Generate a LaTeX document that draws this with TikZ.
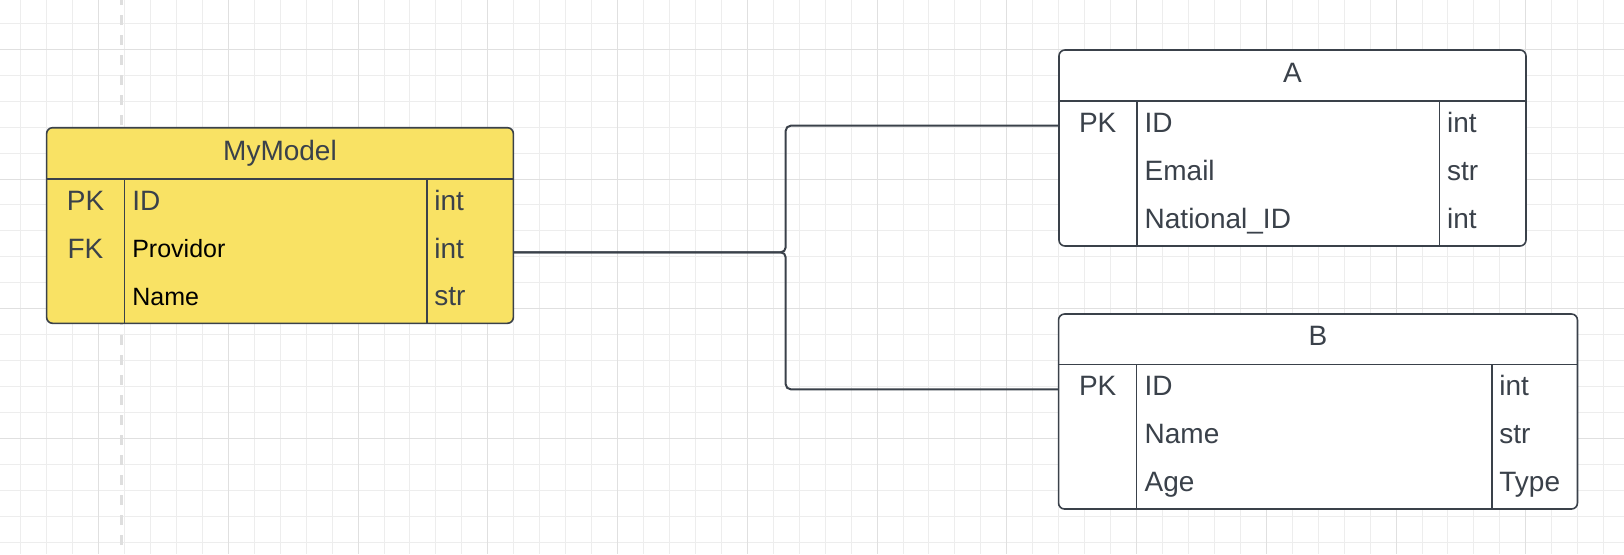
\documentclass[tikz,border=0pt]{standalone}
\usepackage{fontspec}
\setmainfont{Liberation Sans}
\usepackage{xcolor}
\definecolor{inkgrey}{HTML}{3A414A}
\definecolor{mmyellow}{HTML}{F9E264}
\definecolor{gridminor}{HTML}{EDEDED}
\definecolor{gridmajor}{HTML}{E0E0E0}
\definecolor{guide}{HTML}{DEDEDE}

\begin{document}
\begin{tikzpicture}[x=0.5pt, y=-0.5pt,
 tbl/.style={draw=inkgrey, line width=0.8pt, rounded corners=3pt, fill=white, inner sep=0},
 sep/.style={draw=inkgrey, line width=0.8pt},
 lbl/.style={inner sep=0, text=inkgrey, font=\fontsize{14}{16}\selectfont},
 fld/.style={lbl, anchor=base west},
 key/.style={lbl, anchor=base},
 small/.style={text=black, font=\fontsize{12.5}{15}\selectfont},
 link/.style={draw=inkgrey, line width=1pt, rounded corners=2.5pt}]
 \useasboundingbox (0, 0) rectangle (1624, 554);
 \foreach \i in {0,...,61} \draw[gridminor, line width=0.5pt] ({20.7+25.95*\i}, 0) -- ++(0, 554);
 \foreach \j in {0,...,20} \draw[gridminor, line width=0.5pt] (0, {23.3+25.95*\j}) -- ++(1624, 0);
 \foreach \i in {0,...,11} \draw[gridmajor, line width=0.5pt] ({98.5+129.75*\i}, 0) -- ++(0, 554);
 \foreach \j in {0,...,3} \draw[gridmajor, line width=0.5pt] (0, {49.3+129.75*\j}) -- ++(1624, 0);
 \draw[guide, line width=1.5pt, dash pattern=on 5pt off 5pt] (121.7, -5) -- (121.7, 560);

 \node[tbl, fill=mmyellow, minimum width=233.4pt, minimum height=97.8pt] (mymodel) at (280, 225.5) {};
 \node[tbl, minimum width=233.5pt, minimum height=98pt] (tblA) at (1292.5, 148) {};
 \node[tbl, minimum width=259.45pt, minimum height=97.5pt] (tblB) at (1318, 411.5) {};

 \coordinate (mm-out) at ([yshift=-13.4pt]mymodel.east);
 \coordinate (hub) at (785.7, 252.3);
 \coordinate (a-in) at ([yshift=11.15pt]tblA.west);
 \coordinate (b-in) at ([yshift=11.1pt]tblB.west);
 \draw[link] (mm-out) -- (hub) |- (a-in);
 \draw[link] (mm-out) -- (hub) |- (b-in);

 \draw[sep] ([yshift=-26pt]mymodel.north west) -- ([yshift=-26pt]mymodel.north east);
 \draw[sep] (124.3, 180) -- (124.3, 323.3);
 \draw[sep] (427, 180) -- (427, 323.3);
 \draw[sep] ([yshift=-25.85pt]tblA.north west) -- ([yshift=-25.85pt]tblA.north east);
 \draw[sep] (1136.7, 101.7) -- (1136.7, 246);
 \draw[sep] (1439.3, 101.7) -- (1439.3, 246);
 \draw[sep] ([yshift=-25.65pt]tblB.north west) -- ([yshift=-25.65pt]tblB.north east);
 \draw[sep] (1136.4, 365.3) -- (1136.4, 509);
 \draw[sep] (1491.8, 365.3) -- (1491.8, 509);

 \node[key] (mm-title) at (280, 160) {MyModel};
 \node[key] (mm-pk) at (85.5, 210) {PK};
 \node[key] (mm-fk) at (85.5, 258.3) {FK};
 \node[fld] (mm-id) at (131.9, 210) {ID};
 \node[fld, small] (mm-prov) at (131.9, 257.3) {Providor};
 \node[fld, small] (mm-name) at (131.9, 305.3) {Name};
 \node[fld] (mm-t1) at (433.9, 210) {int};
 \node[fld] (mm-t2) at (433.9, 258.3) {int};
 \node[fld] (mm-t3) at (433.9, 305.5) {str};

 \node[key] (a-title) at (1292.5, 82.5) {A};
 \node[key] (a-pk) at (1097.7, 132.3) {PK};
 \node[fld] (a-id) at (1144.3, 132.3) {ID};
 \node[fld] (a-email) at (1144.3, 180) {Email};
 \node[fld] (a-nid) at (1144.3, 228.3) {National\_ID};
 \node[fld] (a-t1) at (1446.7, 132.3) {int};
 \node[fld] (a-t2) at (1446.7, 180) {str};
 \node[fld] (a-t3) at (1446.7, 228.3) {int};

 \node[key] (b-title) at (1318, 345.7) {B};
 \node[key] (b-pk) at (1097.7, 395) {PK};
 \node[fld] (b-id) at (1144.3, 395) {ID};
 \node[fld] (b-name) at (1144.3, 443.3) {Name};
 \node[fld] (b-age) at (1144.3, 491.7) {Age};
 \node[fld] (b-t1) at (1499, 395) {int};
 \node[fld] (b-t2) at (1499, 443.3) {str};
 \node[fld] (b-t3) at (1499, 491.7) {Type};
\end{tikzpicture}
\end{document}
